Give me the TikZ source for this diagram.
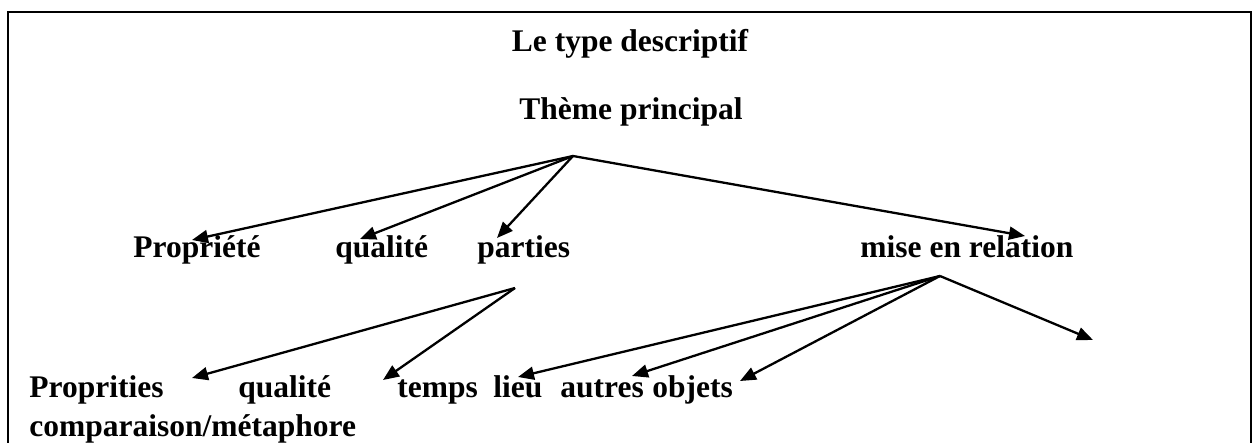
\documentclass[tikz,border=0pt]{standalone}
\usepackage{fontspec}
\setmainfont{Liberation Serif}
\usetikzlibrary{arrows.meta}
\begin{document}
\begin{tikzpicture}[x=0.5pt,y=-0.5pt,
  lbl/.style={inner sep=0pt, anchor=base west, font=\bfseries\fontsize{15.75pt}{18pt}\selectfont},
  ttl/.style={lbl, anchor=base},
  arr/.style={line width=1.15pt, -{Triangle[length=8pt,width=6.5pt]}},
  frame/.style={line width=1pt}]
\useasboundingbox (0,0) rectangle (1258,443);
\clip (0,0) rectangle (1258,443);
\fill[white] (0,0) rectangle (1258,443);
\draw[frame] (8,12) rectangle (1251,480);
% texts
\node[ttl] (title) at (630,52) {Le type descriptif};
\node[ttl] (theme) at (631,120) {Thème principal};
\node[lbl] (prop) at (133,258) {Propriété};
\node[lbl] (qual) at (335,258) {qualité};
\node[lbl] (part) at (477,258) {parties};
\node[lbl] (mise) at (860,258) {mise en relation};
\node[lbl] (propr) at (29,397) {Proprities};
\node[lbl] (qual2) at (238,397) {qualité};
\node[lbl] (temps) at (397,397) {temps};
\node[lbl] (lieu) at (493,397) {lieu};
\node[lbl] (autres) at (560,397) {autres};
\node[lbl] (objets) at (652,397) {objets};
\node[lbl] (comp) at (29,436) {comparaison/métaphore};
% branching points
\coordinate (T) at (573,156);
\coordinate (P) at (515,288);
\coordinate (R) at (940,276);
% arrow tips
\coordinate (tProp) at (192,240);
\coordinate (tQual) at (360,239);
\coordinate (tPart) at (497,238);
\coordinate (tMise) at (1025,236);
\coordinate (tPropr) at (192,378);
\coordinate (tQual2) at (383,380);
\coordinate (tLieu) at (518,377);
\coordinate (tAutres) at (632,376);
\coordinate (tObjets) at (740,381);
\coordinate (tFree) at (1093,340);
% connectors
\draw[arr] (T) -- (tProp);
\draw[arr] (T) -- (tQual);
\draw[arr] (T) -- (tPart);
\draw[arr] (T) -- (tMise);
\draw[arr] (P) -- (tPropr);
\draw[arr] (P) -- (tQual2);
\draw[arr] (R) -- (tLieu);
\draw[arr] (R) -- (tAutres);
\draw[arr] (R) -- (tObjets);
\draw[arr] (R) -- (tFree);
\end{tikzpicture}
\end{document}
